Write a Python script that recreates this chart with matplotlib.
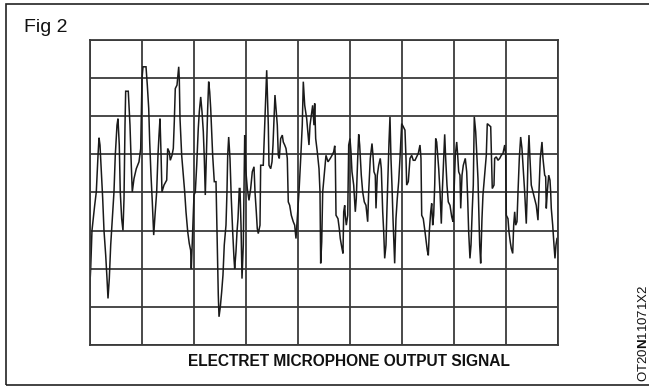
import matplotlib
matplotlib.use("Agg")
import matplotlib.pyplot as plt
from matplotlib.patches import Rectangle

# Oscilloscope trace: time in screen divisions, amplitude in divisions from centre line
time_div = [
    0.000, 0.019, 0.044, 0.096, 0.127, 0.160, 0.179, 0.198, 0.223, 0.250,
    0.275, 0.308, 0.333, 0.352, 0.377, 0.404, 0.435, 0.467, 0.492, 0.525,
    0.544, 0.569, 0.588, 0.615, 0.640, 0.660, 0.679, 0.692, 0.742, 0.775,
    0.800, 0.819, 0.852, 0.896, 0.948, 0.981, 1.006, 1.025, 1.083, 1.108,
    1.135, 1.154, 1.179, 1.204, 1.231, 1.256, 1.288, 1.313, 1.333, 1.352,
    1.371, 1.390, 1.429, 1.481,
    1.500, 1.531, 1.550, 1.583, 1.608, 1.627, 1.646, 1.679, 1.712, 1.723,
    1.737, 1.769, 1.800, 1.827, 1.852, 1.885, 1.915, 1.942, 1.954, 1.981,
    2.006, 2.031, 2.058, 2.088, 2.108, 2.135, 2.160, 2.185, 2.204, 2.223,
    2.242, 2.269, 2.288, 2.308, 2.327, 2.346, 2.365, 2.396, 2.429, 2.448,
    2.462, 2.473, 2.487, 2.512, 2.538, 2.563, 2.588, 2.621, 2.640, 2.654,
    2.673, 2.698, 2.723, 2.750, 2.775, 2.788, 2.813, 2.833, 2.852, 2.877,
    2.890, 2.910, 2.929, 2.954, 2.967, 2.981,
    3.000, 3.031, 3.063, 3.096, 3.127, 3.160, 3.179, 3.204, 3.223, 3.242,
    3.275, 3.288, 3.338, 3.365, 3.390, 3.404, 3.415, 3.435, 3.448, 3.481,
    3.506, 3.525, 3.544, 3.563, 3.583, 3.608, 3.627, 3.646, 3.673, 3.704,
    3.723, 3.750, 3.775, 3.800, 3.819, 3.846, 3.877, 3.915, 3.942, 3.967,
    3.992, 4.025, 4.058, 4.088, 4.108, 4.135, 4.173, 4.217, 4.237, 4.262,
    4.288, 4.313, 4.327, 4.346, 4.377, 4.410, 4.429, 4.442, 4.462, 4.481,
    4.544, 4.583, 4.627, 4.660, 4.692, 4.712, 4.723, 4.737, 4.775, 4.800,
    4.819, 4.852, 4.871, 4.885, 4.904, 4.915, 4.935, 4.962, 4.981, 5.006,
    5.025, 5.044, 5.077, 5.108, 5.127, 5.154, 5.173, 5.192, 5.223, 5.250,
    5.281, 5.313, 5.346, 5.365, 5.396, 5.429, 5.448, 5.467, 5.492, 5.506,
    5.531, 5.558, 5.588, 5.608, 5.635, 5.654, 5.673, 5.698, 5.717, 5.737,
    5.756, 5.775, 5.794, 5.813, 5.833, 5.852, 5.865, 5.890, 5.915, 5.942,
    5.967,
    6.000, 6.031, 6.063, 6.083, 6.096, 6.127, 6.160, 6.192, 6.223, 6.256,
    6.288, 6.319, 6.352, 6.371, 6.385, 6.415, 6.448, 6.467, 6.492, 6.512,
    6.531, 6.558, 6.577, 6.596, 6.615, 6.635, 6.654, 6.673, 6.692, 6.712,
    6.737, 6.762, 6.781, 6.808, 6.827, 6.846, 6.871, 6.896, 6.929, 6.962,
    6.987, 7.006, 7.031, 7.058, 7.077, 7.096, 7.121, 7.135, 7.160, 7.185,
    7.223, 7.250, 7.269, 7.288, 7.313, 7.333, 7.358, 7.377, 7.396, 7.423,
    7.448, 7.467,
    7.487, 7.500, 7.519, 7.544, 7.563, 7.596, 7.627, 7.646, 7.679, 7.712,
    7.723, 7.742, 7.775, 7.788, 7.819, 7.852, 7.885, 7.915, 7.948, 7.981,
    8.000, 8.012, 8.044, 8.063, 8.088, 8.108, 8.135, 8.154, 8.173, 8.192,
    8.217, 8.237, 8.262, 8.288, 8.313, 8.333, 8.365, 8.396, 8.415, 8.429,
    8.448, 8.467, 8.492, 8.525, 8.558, 8.588, 8.621, 8.640, 8.665, 8.698,
    8.717, 8.750, 8.769, 8.781, 8.800, 8.827, 8.852, 8.865, 8.877, 8.904,
    8.929, 8.948, 8.967, 8.987,
]

signal_div = [
    -2.52, -2.00, -1.00, -0.34, 0.01, 0.97, 1.43, 1.24, 0.54, -0.16,
    -1.00, -1.65, -2.26, -2.78, -2.26, -1.38, -0.69, 0.01, 0.97, 1.76,
    1.93, 1.24, 0.01, -0.69, -1.00, -0.16, 1.76, 2.65, 2.65, 1.76,
    0.71, 0.01, 0.36, 0.62, 0.80, 1.15, 2.98, 3.29, 3.29, 2.81,
    2.20, 1.32, 0.45, -0.25, -1.12, -0.60, 0.01, 0.97, 1.50, 1.93,
    1.06, 0.01, 0.19, 0.32,
    1.15, 1.06, 0.84, 0.97, 1.15, 1.85, 2.72, 2.81, 3.29, 2.98,
    1.93, 0.97, 0.45, 0.01, -0.51, -1.03, -1.34, -1.52, -2.00, -1.03,
    -0.07, 0.01, 0.71, 1.67, 2.11, 2.50, 2.11, 1.59, 0.89, -0.07,
    0.89, 2.20, 2.90, 2.63, 2.20, 1.59, 0.97, 0.28, 0.28, -1.03,
    -2.08, -2.69, -3.26, -3.00, -2.61, -2.17, -1.38, -0.86, 0.01, 0.97,
    1.45, 0.89, -0.16, -1.03, -1.73, -2.00, -1.56, -1.03, -0.69, 0.10,
    0.10, -0.86, -2.26, -1.38, 0.01, 1.50,
    0.62, 0.10, -0.21, 0.10, 0.54, 0.67, 0.01, -0.51, -0.95, -1.08,
    -0.86, 0.71, 0.71, 1.76, 2.72, 3.20, 2.68, 1.76, 0.71, 0.62,
    0.80, 1.24, 1.93, 2.55, 2.20, 1.76, 0.97, 0.89, 1.41, 1.50,
    1.32, 1.24, 1.15, 0.89, -0.25, -0.34, -0.60, -0.77, -0.86, -1.21,
    -0.69, 0.01, 0.89, 1.76, 2.90, 2.28, 1.93, 1.24, 1.76, 2.02,
    2.28, 1.76, 2.33, 1.41, 1.06, 0.62, 0.01, -1.86, -1.30, 0.01,
    0.97, 0.80, 0.89, 0.97, 1.06, 1.22, 0.97, -0.60, -0.69, -0.95,
    -1.21, -1.47, -1.60, -0.51, -0.34, -0.60, -0.86, -0.60, 1.24, 1.41,
    1.06, 0.54, 0.19, -0.51, -0.16, 0.89, 1.52, 1.24, 0.45, 0.01,
    -0.25, -0.34, -0.77, 0.01, 0.89, 1.28, 0.97, 0.54, 0.45, -0.42,
    0.45, 0.71, 0.89, 0.62, -0.51, -1.03, -1.73, -1.38, -0.42, 0.45,
    1.32, 1.98, 0.89, 0.19, -0.69, -1.38, -1.86, -0.69, -0.16, 0.28,
    0.89,
    1.80, 1.72, 1.63, 0.89, 0.19, 0.28, 0.89, 0.97, 0.84, 0.84,
    0.93, 1.02, 1.24, 0.89, -0.60, -0.69, -1.03, -1.25, -1.52, -1.65,
    -1.03, -0.51, -0.29, -0.86, -0.60, 0.19, 1.41, 1.32, 0.97, 0.62,
    0.01, -0.82, 0.01, 0.89, 1.52, 0.89, 0.19, -0.25, -0.34, -0.64,
    -0.77, 0.01, 0.97, 1.32, 0.97, 0.54, 0.45, -0.42, 0.45, 0.71,
    0.89, 0.54, -0.16, -1.03, -1.73, -1.38, -0.42, 0.19, 1.98, 1.59,
    0.89, 0.36,
    -0.69, -1.38, -1.86, -0.69, -0.07, 0.45, 0.97, 1.80, 1.76, 1.72,
    1.15, 0.10, 0.19, 0.89, 0.93, 0.84, 0.89, 0.97, 1.02, 1.24,
    0.97, -0.60, -0.69, -1.03, -1.30, -1.47, -1.60, -0.86, -0.51, -0.86,
    -0.77, 0.01, 0.89, 1.45, 1.15, 0.71, 0.01, -0.82, 0.01, 0.89,
    1.50, 0.89, 0.19, 0.01, -0.16, -0.34, -0.73, 0.01, 0.89, 1.32,
    0.89, 0.45, 0.41, -0.42, 0.01, 0.45, 0.32, 0.01, -0.42, -0.86,
    -1.38, -1.73, -1.38, -1.21,
]

n_cols = 9   # horizontal divisions
n_rows = 8   # vertical divisions

title_text = "ELECTRET MICROPHONE OUTPUT SIGNAL"
fig_label = "Fig 2"
code_label = r"OT20$\mathbf{N}$11071X2"

plt.rcParams["font.family"] = ["Liberation Sans", "DejaVu Sans"]
plt.rcParams["mathtext.fontset"] = "custom"
plt.rcParams["mathtext.rm"] = "Liberation Sans"
plt.rcParams["mathtext.bf"] = "Liberation Sans:bold"

fig = plt.figure(figsize=(6.49, 3.88), dpi=100)
fig.patch.set_facecolor("white")

# outer frame (left, top, bottom edges; right edge runs off the page)
fig.add_artist(Rectangle((0.009, 0.009), 1.2, 0.981, transform=fig.transFigure,
                         fill=False, edgecolor="#222222", linewidth=1.2))

ax = fig.add_axes([0.1382, 0.1108, 0.7211, 0.7869])
ax.plot(time_div, signal_div, color="#1a1a1a", linewidth=1.1, solid_joinstyle="miter")

ax.set_xlim(0, n_cols)
ax.set_ylim(-n_rows / 2, n_rows / 2)
ax.set_xticks(range(0, n_cols + 1))
ax.set_yticks(range(-n_rows // 2, n_rows // 2 + 1))
ax.tick_params(length=0, labelbottom=False, labelleft=False)
ax.grid(True, color="#3a3a3a", linewidth=1.3)
ax.set_axisbelow(True)
for sp in ax.spines.values():
    sp.set_color("#3a3a3a")
    sp.set_linewidth(1.3)

fig.text(0.037, 0.93, fig_label, fontsize=14, ha="left", va="center", color="#111111")
fig.text(0.538, 0.068, title_text, fontsize=11.2, fontweight="bold",
         ha="center", va="center", color="#111111")
fig.text(0.991, 0.14, code_label, fontsize=9.5, rotation=90,
         ha="center", va="center", color="#111111")

fig.savefig("out.png", dpi=100, facecolor="white")
